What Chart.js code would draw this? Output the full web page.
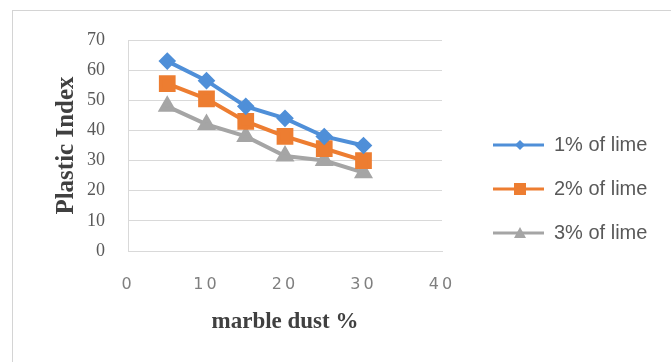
<!DOCTYPE html>
<html>
<head>
<meta charset="utf-8">
<script src="https://cdn.jsdelivr.net/npm/chart.js@4"></script>
<style>
  html, body { margin: 0; padding: 0; background: #fff; }
  #wrap { width: 671px; height: 362px; }
</style>
</head>
<body>
<div id="wrap"><canvas id="chart"></canvas></div>
<script>
const marbleDust = [5, 10, 15, 20, 25, 30];
const lime1 = [63, 56.5, 48, 44, 38, 35];
const lime2 = [55.5, 50.5, 43, 38, 34, 30];
const lime3 = [48, 42, 38, 31.5, 30, 26];
const seriesNames = ['1% of lime', '2% of lime', '3% of lime'];

const BLUE = '#4f8fd8';
const ORANGE = '#ed7d31';
const GRAY = '#a5a5a5';
const LEGEND_W = 229;

// legend icon: line with the marker in the middle (transparent gap on the left)
function legendIcon(color, style) {
  const c = document.createElement('canvas');
  c.width = 78; c.height = 18;
  const g = c.getContext('2d');
  g.strokeStyle = color; g.fillStyle = color; g.lineWidth = 3;
  g.beginPath(); g.moveTo(27, 9); g.lineTo(78, 9); g.stroke();
  const cx = 54, cy = 9;
  g.beginPath();
  if (style === 'diamond') {
    g.moveTo(cx, cy - 5); g.lineTo(cx + 5, cy); g.lineTo(cx, cy + 5); g.lineTo(cx - 5, cy);
  } else if (style === 'square') {
    g.rect(cx - 6, cy - 6, 12, 12);
  } else {
    g.moveTo(cx, cy - 6); g.lineTo(cx + 6, cy + 5); g.lineTo(cx - 6, cy + 5);
  }
  g.closePath(); g.fill();
  return c;
}

const toPoints = ys => ys.map((y, i) => ({ x: marbleDust[i], y }));

const frame = {
  id: 'frame',
  beforeLayout(chart) {
    // let the legend be wider than chart.js' half-width limit
    const lg = chart.legend;
    if (lg && !lg._wide) {
      const fit = lg.fit;
      lg.fit = function () { fit.call(this); this.width = LEGEND_W; };
      lg._wide = true;
    }
  },
  beforeDraw(chart) {
    const ctx = chart.ctx;
    ctx.save();
    ctx.strokeStyle = '#d4d4d4';
    ctx.lineWidth = 1;
    ctx.strokeRect(12.5, 10.5, 700, 400);
    ctx.restore();
    const sx = chart.scales.x;
    if (sx && !sx._spaced) {
      const orig = sx.drawLabels;
      sx.drawLabels = function (area) {
        this.ctx.save();
        this.ctx.letterSpacing = '3px';
        orig.call(this, area);
        this.ctx.restore();
      };
      sx._spaced = true;
    }
  }
};

new Chart(document.getElementById('chart'), {
  type: 'line',
  data: {
    datasets: [
      {
        label: seriesNames[0], data: toPoints(lime1),
        borderColor: BLUE, backgroundColor: BLUE, borderWidth: 4,
        pointStyle: 'rectRot', pointRadius: 6, legendIcon: legendIcon(BLUE, 'diamond')
      },
      {
        label: seriesNames[1], data: toPoints(lime2),
        borderColor: ORANGE, backgroundColor: ORANGE, borderWidth: 4,
        pointStyle: 'rect', pointRadius: 9, legendIcon: legendIcon(ORANGE, 'square')
      },
      {
        label: seriesNames[2], data: toPoints(lime3),
        borderColor: GRAY, backgroundColor: GRAY, borderWidth: 4,
        pointStyle: 'triangle', pointRadius: 7, legendIcon: legendIcon(GRAY, 'triangle')
      }
    ]
  },
  options: {
    responsive: true,
    maintainAspectRatio: false,
    animation: false,
    layout: { padding: { top: 40, bottom: 24, left: 0, right: 0 } },
    scales: {
      x: {
        type: 'linear',
        min: 0, max: 40,
        afterFit: s => { s.height = 87; },
        ticks: {
          stepSize: 10, padding: 24, color: '#7f7f7f',
          font: { family: 'DejaVu Sans', size: 16 }
        },
        grid: { display: false, drawTicks: false },
        border: { display: true, color: '#d9d9d9' },
        title: {
          display: true, text: 'marble dust %', color: '#404040',
          font: { family: 'Liberation Serif', size: 23, weight: 'bold' },
          padding: { bottom: 2, top: 0 }
        }
      },
      y: {
        min: 0, max: 70,
        afterFit: s => { s.width = 128; },
        ticks: {
          stepSize: 10, padding: 23, color: '#595959',
          font: { family: 'Liberation Serif', size: 18 }
        },
        grid: { color: '#d9d9d9', drawTicks: false },
        border: { display: true, color: '#d9d9d9' },
        title: {
          display: true, text: 'Plastic Index', color: '#404040',
          font: { family: 'Liberation Serif', size: 25, weight: 'bold' },
          padding: { top: 52, bottom: 0 }
        }
      }
    },
    plugins: {
      legend: {
        position: 'right',
        labels: {
          usePointStyle: true,
          pointStyleWidth: 78,
          padding: 24,
          color: '#595959',
          font: { family: 'Liberation Sans', size: 20 },
          generateLabels: chart => chart.data.datasets.map((ds, i) => ({
            text: ds.label,
            pointStyle: ds.legendIcon,
            fillStyle: ds.backgroundColor,
            strokeStyle: ds.borderColor,
            lineWidth: 0,
            fontColor: '#595959',
            hidden: !chart.isDatasetVisible(i),
            datasetIndex: i
          }))
        }
      },
      tooltip: { enabled: false }
    }
  },
  plugins: [frame]
});
</script>
</body>
</html>
